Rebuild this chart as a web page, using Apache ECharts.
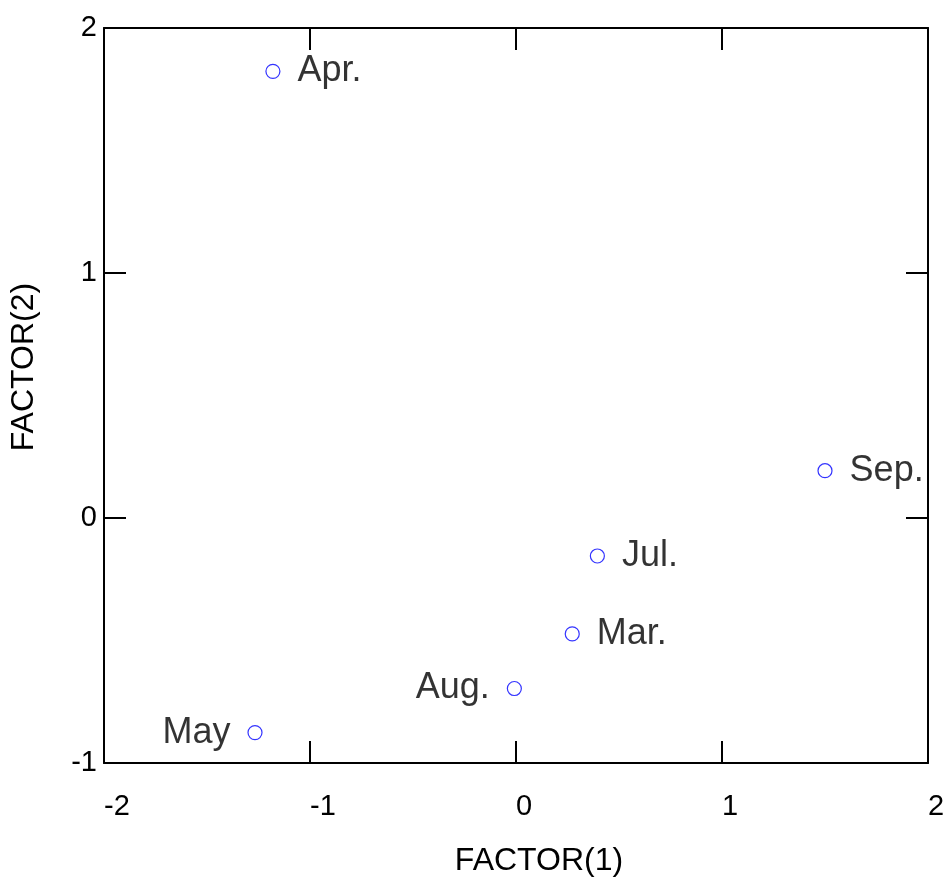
<!DOCTYPE html>
<html>
<head>
<meta charset="utf-8">
<script src="https://cdn.jsdelivr.net/npm/echarts@6/dist/echarts.min.js"></script>
<style>
html,body{margin:0;padding:0;background:#fff;}
#chart{width:952px;height:882px;}
</style>
</head>
<body>
<div id="chart"></div>
<script>
// Data
var months = ['Apr.', 'Sep.', 'Jul.', 'Mar.', 'Aug.', 'May'];
var factor1 = [-1.18, 1.50, 0.395, 0.273, -0.008, -1.267];
var factor2 = [1.823, 0.193, -0.155, -0.473, -0.696, -0.876];
var xTicks = [-2, -1, 0, 1, 2];
var yTicks = [-1, 0, 1, 2];

// Label placement (style, not data)
var labelSide = {'Aug.': 'left', 'May': 'left'};

var FONT = 'Liberation Sans, Arial, sans-serif';

var points = months.map(function (m, i) {
  return {
    name: m,
    value: [factor1[i], factor2[i]],
    label: { position: labelSide[m] || 'right' }
  };
});

var chart = echarts.init(document.getElementById('chart'), null, { renderer: 'canvas' });

var lineStyle = { color: '#000', width: 2 };

chart.setOption({
  backgroundColor: '#fff',
  animation: false,
  grid: { left: 104, right: 24, top: 28, bottom: 116, containLabel: false },
  xAxis: [
    {
      type: 'value', min: xTicks[0], max: xTicks[xTicks.length - 1], interval: 1,
      position: 'bottom',
      name: 'FACTOR(1)', nameLocation: 'middle', nameGap: 82,
      nameTextStyle: { fontFamily: FONT, fontSize: 32, color: '#000', padding: [0, 0, 0, 46] },
      axisLine: { show: true, onZero: false, lineStyle: lineStyle },
      axisTick: { show: true, inside: true, length: 22, lineStyle: lineStyle },
      axisLabel: { show: true, margin: 29, align: 'left', fontFamily: FONT, fontSize: 29, color: '#000' },
      splitLine: { show: false }
    },
    {
      type: 'value', min: xTicks[0], max: xTicks[xTicks.length - 1], interval: 1,
      position: 'top',
      axisLine: { show: true, onZero: false, lineStyle: lineStyle },
      axisTick: { show: true, inside: true, length: 22, lineStyle: lineStyle },
      axisLabel: { show: false },
      splitLine: { show: false }
    }
  ],
  yAxis: [
    {
      type: 'value', min: yTicks[0], max: yTicks[yTicks.length - 1], interval: 1,
      position: 'left',
      name: 'FACTOR(2)', nameLocation: 'middle', nameGap: 64, nameRotate: 90,
      nameTextStyle: { fontFamily: FONT, fontSize: 32, color: '#000', padding: [0, 0, 0, 57] },
      axisLine: { show: true, onZero: false, lineStyle: lineStyle },
      axisTick: { show: true, inside: true, length: 22, lineStyle: lineStyle },
      axisLabel: { show: true, margin: 7, fontFamily: FONT, fontSize: 29, color: '#000' },
      splitLine: { show: false }
    },
    {
      type: 'value', min: yTicks[0], max: yTicks[yTicks.length - 1], interval: 1,
      position: 'right',
      axisLine: { show: true, onZero: false, lineStyle: lineStyle },
      axisTick: { show: true, inside: true, length: 22, lineStyle: lineStyle },
      axisLabel: { show: false },
      splitLine: { show: false }
    }
  ],
  series: [
    {
      type: 'scatter',
      xAxisIndex: 0, yAxisIndex: 0,
      symbol: 'circle',
      symbolSize: 14,
      itemStyle: { color: 'rgba(255,255,255,0)', borderColor: '#0000ff', borderWidth: 1.2 },
      label: {
        show: true,
        formatter: '{b}',
        distance: 17,
        fontFamily: FONT,
        fontSize: 36,
        color: '#000'
      },
      emphasis: { disabled: true },
      data: points
    }
  ]
});
</script>
</body>
</html>
